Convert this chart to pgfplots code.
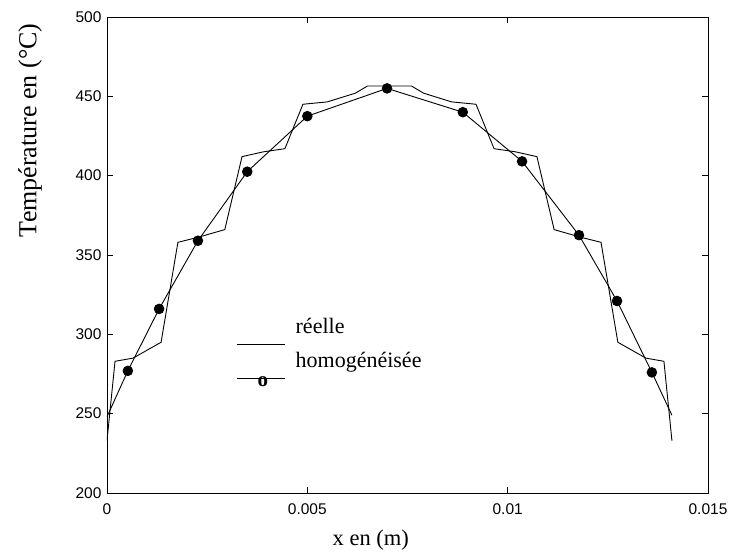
\documentclass[border=0pt]{standalone}
\usepackage{pgfplots}
\pgfplotsset{compat=1.18}
\usepackage{fontspec}
\setmainfont{Liberation Serif}
\newfontfamily\ticksans{Liberation Sans}

\begin{document}
\begin{tikzpicture}[x=1pt,y=1pt]
\path[use as bounding box] (-107,-60) rectangle (630,493);
\begin{axis}[
  at={(0,0)}, anchor=south west,
  scale only axis, width=601pt, height=476pt,
  xmin=0, xmax=0.015, ymin=200, ymax=500,
  xtick={0,0.005,0.01,0.015}, xticklabels={0,0.005,0.01,0.015},
  scaled x ticks=false,
  ytick={200,250,300,350,400,450,500},
  tick align=inside, major tick length=6pt,
  axis line style={line width=0.8pt},
  every tick/.style={line width=0.8pt, black},
  ticklabel style={font=\ticksans\fontsize{15.5}{15.5}\selectfont},
  xticklabel style={yshift=-7pt},
  yticklabel style={xshift=-2pt},
  /pgf/number format/assume math mode=true,
  xlabel={x en (m)}, ylabel={Température en (°C)},
  xlabel style={font=\fontsize{22.5}{24}\selectfont, at={(axis description cs:0.439,-0.0987)}, anchor=center},
  ylabel style={font=\fontsize{26}{28}\selectfont, at={(axis description cs:-0.128,0.762)}, anchor=center},
  legend style={at={(axis description cs:0.211,0.376)}, anchor=north west,
    draw=none, fill=none, font=\fontsize{22}{24}\selectfont, row sep=5pt},
  legend cell align=left,
]
% real temperature profile
\addplot[black, line width=0.9pt, forget plot] coordinates {
(0,233) (0.0002,283) (0.00065,285) (0.00135,295) (0.00177,358) (0.00225,361)
(0.00294,366) (0.00337,412) (0.0039,415) (0.00444,417) (0.00489,445) (0.0055,446.5)
(0.0062,452) (0.0065,456.5) (0.0076,456.5) (0.0079,452) (0.0086,446.5) (0.00921,445)
(0.00966,417) (0.0102,415) (0.01073,412) (0.01116,366) (0.01185,361) (0.01233,358)
(0.01275,295) (0.01345,285) (0.0139,283) (0.0141,233)
};
% homogenised profile
\addplot[black, line width=0.9pt, mark=*, mark size=4.8pt, mark indices={2,...,12}, forget plot] coordinates {
(0,248) (0.00052,277) (0.0013,316) (0.00227,359) (0.0035,402.5) (0.005,437.5)
(0.00699,455) (0.00888,440) (0.01036,409) (0.01178,362.5) (0.01273,321) (0.0136,276) (0.0141,249)
};
\addlegendimage{legend image code/.code={\draw[black, line width=0.9pt] (0pt,-18pt) -- (48pt,-18pt); \path (56pt,-18pt);}}
\addlegendentry{réelle}
\addlegendimage{legend image code/.code={\draw[black, line width=0.9pt] (0pt,-18pt) -- (48pt,-18pt); \path (56pt,-18pt);
  \node[font=\bfseries\fontsize{21}{21}\selectfont, inner sep=0pt] at (20pt,-22pt) {o};}}
\addlegendentry{homogénéisée}
\end{axis}
\end{tikzpicture}
\end{document}
